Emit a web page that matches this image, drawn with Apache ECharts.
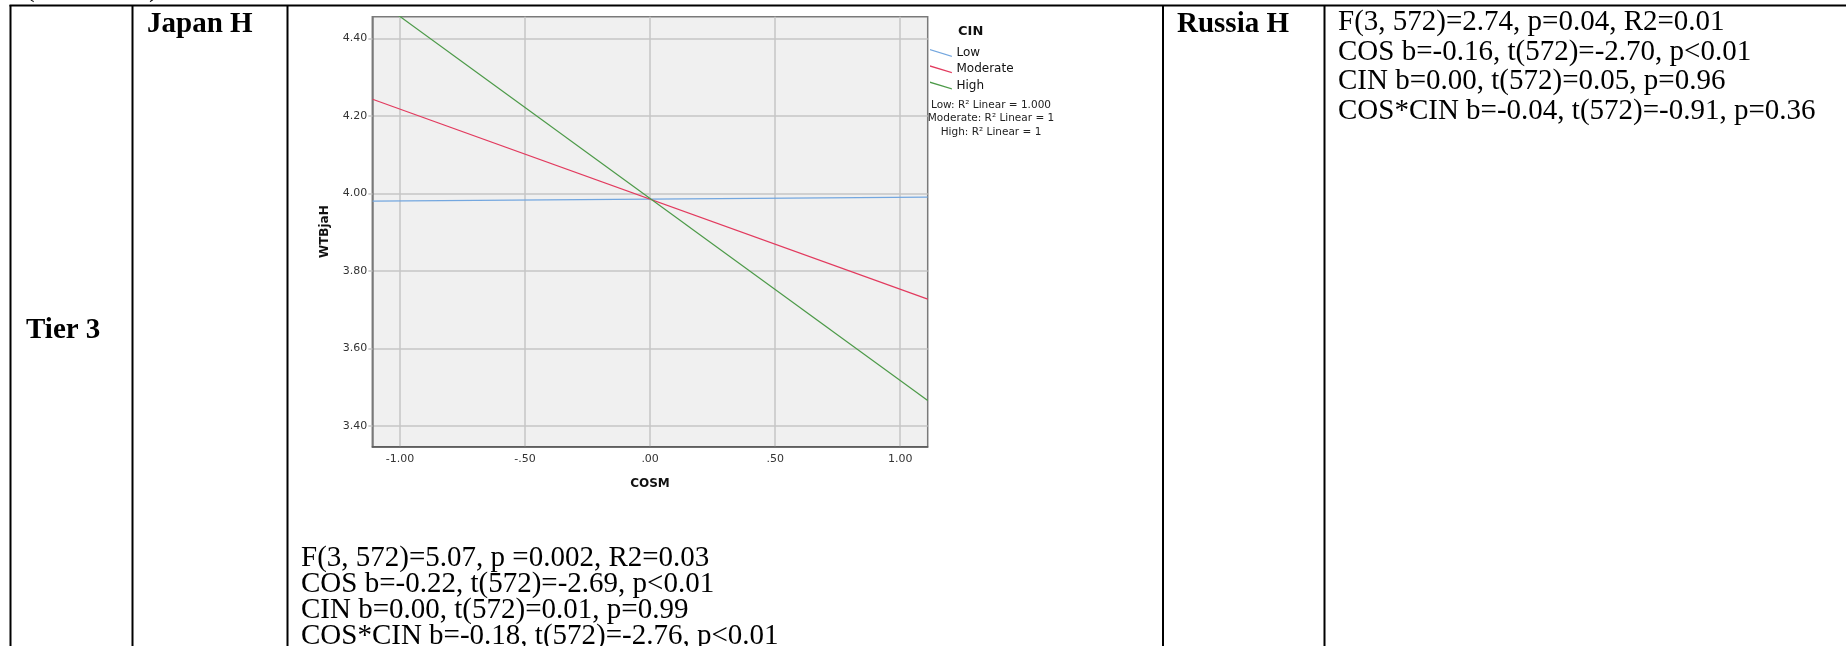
<!DOCTYPE html>
<html>
<head>
<meta charset="utf-8">
<script src="https://cdn.jsdelivr.net/npm/echarts@6/dist/echarts.min.js"></script>
<style>
  html, body { margin: 0; padding: 0; background: #ffffff; }
  #chart { width: 1846px; height: 646px; }
</style>
</head>
<body>
<div id="chart"></div>
<script>
// Simple slopes of WTBjaH on COSM at three levels of CIN
const cosm = [-1.11, 1.11];
const cinLevels = ['Low', 'Moderate', 'High'];
const wtbLow = [3.980, 3.990];
const wtbModerate = [4.243, 3.727];
const wtbHigh = [4.508, 3.465];
const seriesColors = ['#74a7df', '#e23a5e', '#4c9a48'];

const yTicks = [3.4, 3.6, 3.8, 4.0, 4.2, 4.4];
const xTicks = [-1, -0.5, 0, 0.5, 1];
const yRange = [3.346, 4.456];
const xRange = [-1.111, 1.11];

const fitNotes = ['Low: R\u00b2 Linear = 1.000', 'Moderate: R\u00b2 Linear = 1', 'High: R\u00b2 Linear = 1'];

// Table cell text
const rowLabel = 'Tier 3';
const leftHeader = 'Japan H';
const rightHeader = 'Russia H';
const japanStats = [
  'F(3, 572)=5.07, p =0.002, R2=0.03',
  'COS b=-0.22, t(572)=-2.69, p<0.01',
  'CIN b=0.00, t(572)=0.01, p=0.99',
  'COS*CIN b=-0.18, t(572)=-2.76, p<0.01'
];
const russiaStats = [
  'F(3, 572)=2.74, p=0.04, R2=0.01',
  'COS b=-0.16, t(572)=-2.70, p<0.01',
  'CIN b=0.00, t(572)=0.05, p=0.96',
  'COS*CIN b=-0.04, t(572)=-0.91, p=0.36'
];

const serif = '"Liberation Serif", "Times New Roman", serif';
const sans = '"DejaVu Sans", Verdana, sans-serif';

function spssNum(v) {
  let s = Math.abs(v).toFixed(2);
  if (s.charAt(0) === '0') s = s.slice(1);
  return (v < 0 ? '-' : '') + s;
}

const seriesValues = [wtbLow, wtbModerate, wtbHigh];
const series = cinLevels.map((name, i) => ({
  name: name,
  type: 'line',
  data: cosm.map((x, j) => [x, seriesValues[i][j]]),
  symbol: 'none',
  showSymbol: false,
  clip: true,
  lineStyle: { color: seriesColors[i], width: 1.2 },
  itemStyle: { color: seriesColors[i] },
  emphasis: { disabled: true },
  silent: true
}));

// Table rules
const black = '#000000';
function vRule(x) {
  return { type: 'line', shape: { x1: x, y1: 5, x2: x, y2: 646 }, style: { stroke: black, lineWidth: 2 }, silent: true };
}
function cellText(t, x, y, weight) {
  return { type: 'text', x: x, y: y, style: { text: t, font: (weight ? weight + ' ' : '') + '29px ' + serif, fill: '#000', align: 'left', verticalAlign: 'middle' }, silent: true };
}
const graphics = [
  { type: 'line', shape: { x1: 9.5, y1: 5.5, x2: 1846, y2: 5.5 }, style: { stroke: black, lineWidth: 2 }, silent: true },
  vRule(10.5), vRule(132.5), vRule(287.5), vRule(1163), vRule(1324.5),
  cellText('(continued)', 25, -12),
  cellText(leftHeader, 147, 25, 'bold'),
  cellText(rightHeader, 1177, 25, 'bold'),
  cellText(rowLabel, 26, 330.5, 'bold')
];
russiaStats.forEach((t, i) => graphics.push(cellText(t, 1338, 22.5 + i * 29.5)));
japanStats.forEach((t, i) => graphics.push(cellText(t, 301, 558 + i * 26)));
fitNotes.forEach((t, i) => graphics.push({
  type: 'text', x: 991, y: 105 + i * 13.5,
  style: { text: t, font: '10.5px ' + sans, fill: '#222', align: 'center', verticalAlign: 'middle' }, silent: true
}));

const chart = echarts.init(document.getElementById('chart'), null, { renderer: 'canvas' });
chart.setOption({
  animation: false,
  backgroundColor: '#ffffff',
  title: {
    text: 'CIN',
    left: 958,
    top: 25,
    padding: 0,
    textStyle: { fontFamily: sans, fontSize: 13, fontWeight: 'bold', color: '#111' }
  },
  legend: {
    data: cinLevels,
    orient: 'vertical',
    left: 930,
    top: 47,
    padding: 0,
    itemWidth: 23,
    itemHeight: 8,
    itemGap: 4.3,
    icon: 'path://M0,0 L23,7 L23,8.4 L0,1.4 Z',
    textStyle: { fontFamily: sans, fontSize: 12, color: '#111', padding: [0, 0, 0, -1] },
    selectedMode: false
  },
  grid: {
    left: 372.3,
    right: 1846 - 927.7,
    top: 16.7,
    bottom: 646 - 446.7,
    show: true,
    backgroundColor: '#f0f0f0',
    borderColor: '#7a7a7a',
    borderWidth: 1.5,
    containLabel: false
  },
  xAxis: {
    type: 'value',
    min: xRange[0],
    max: xRange[1],
    name: 'COSM',
    nameLocation: 'middle',
    nameGap: 31.5,
    nameTextStyle: { fontFamily: sans, fontSize: 12, fontWeight: 'bold', color: '#111' },
    axisLine: { show: true, onZero: false, lineStyle: { color: '#555', width: 1.5 } },
    axisTick: { show: false, customValues: xTicks },
    axisLabel: { customValues: xTicks, formatter: spssNum, fontFamily: sans, fontSize: 11, color: '#333', margin: 7 },
    splitLine: { show: true, lineStyle: { color: '#c6c6c6', width: 1.5 } }
  },
  yAxis: {
    type: 'value',
    min: yRange[0],
    max: yRange[1],
    name: 'WTBjaH',
    nameLocation: 'middle',
    nameGap: 41,
    nameTextStyle: { fontFamily: sans, fontSize: 12, fontWeight: 'bold', color: '#111' },
    axisLine: { show: true, onZero: false, lineStyle: { color: '#7a7a7a', width: 1.5 } },
    axisTick: { show: true, length: 4, customValues: yTicks, lineStyle: { color: '#c6c6c6', width: 1.5 } },
    axisLabel: { customValues: yTicks, formatter: v => v.toFixed(2), fontFamily: sans, fontSize: 11, color: '#333', margin: 5 },
    splitLine: { show: true, lineStyle: { color: '#c6c6c6', width: 1.5 } }
  },
  graphic: graphics,
  series: series
});
</script>
</body>
</html>
